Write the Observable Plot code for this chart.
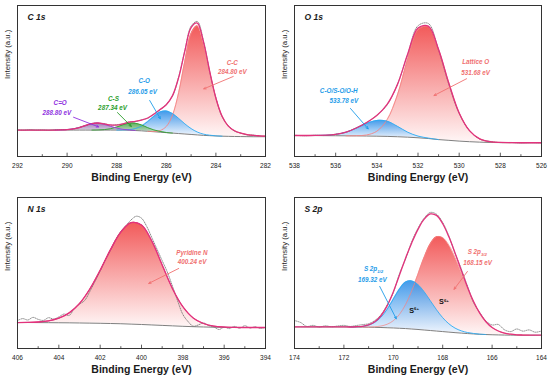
<!DOCTYPE html>
<html>
<head>
<meta charset="utf-8">
<script src="https://cdn.jsdelivr.net/npm/d3@7"></script>
<script src="https://cdn.jsdelivr.net/npm/@observablehq/plot@0.6"></script>
<style>
  body { margin: 0; background: #fff; }
  #root { position: relative; width: 550px; height: 385px; font-family: Arial, "Liberation Sans", Helvetica, sans-serif; }
  .panel { position: absolute; width: 275px; height: 192px; }
  .panel svg { display: block; }
</style>
</head>
<body>
<svg width="0" height="0" style="position:absolute">
  <defs>
    <linearGradient id="gRed" x1="0" y1="0" x2="0" y2="1">
      <stop offset="0" stop-color="#f25a5a"/><stop offset="1" stop-color="#fff6f6"/>
    </linearGradient>
    <linearGradient id="gBlue" x1="0" y1="0" x2="0" y2="1">
      <stop offset="0" stop-color="#2f8fe8"/><stop offset="1" stop-color="#f0f7ff"/>
    </linearGradient>
    <linearGradient id="gGreen" x1="0" y1="0" x2="0" y2="1">
      <stop offset="0" stop-color="#3f9c3f"/><stop offset="1" stop-color="#bfdfbf"/>
    </linearGradient>
    <linearGradient id="gPurple" x1="0" y1="0" x2="0" y2="1">
      <stop offset="0" stop-color="#8a62a8"/><stop offset="1" stop-color="#cfc0da"/>
    </linearGradient>
  </defs>
</svg>
<div id="root"></div>
<script>
// ---------------- C 1s ----------------
const c1sEnergy = [292, 291.75, 291.5, 291.25, 291, 290.75, 290.5, 290.25, 290, 289.75, 289.5, 289.25, 289, 288.75, 288.5, 288.25, 288, 287.75, 287.5, 287.25, 287, 286.75, 286.5, 286.25, 286, 285.75, 285.5, 285.25, 285, 284.75, 284.5, 284.25, 284, 283.75, 283.5, 283.25, 283, 282.75, 282.5, 282.25, 282];
const c1sBackground = [17.5, 17.5, 17.5, 17.5, 17.5, 17.5, 17.5, 17.5, 17.5, 17.5, 17.5, 17.5, 17.5, 17.5, 17.5, 17.5, 17.5, 17.5, 17.4, 17.2, 17.0, 16.7, 16.4, 16.1, 15.8, 15.5, 15.2, 14.9, 14.6, 14.3, 14.0, 13.8, 13.6, 13.45, 13.35, 13.25, 13.2, 13.15, 13.1, 13.1, 13.1];
const c1sCC = [0, 0, 0, 0, 0, 0, 0, 0, 0, 0, 0, 0, 0, 0, 0, 0, 0, 0, 0, 0, 0, 0, 0.2, 1.1, 4.1, 11.9, 27.2, 48.4, 66.9, 72.2, 61.1, 42.3, 24.9, 13.2, 6.8, 3.8, 2.2, 1.4, 0.9, 0.6, 0.4];
const c1sCO = [0, 0, 0, 0, 0, 0, 0, 0, 0, 0, 0, 0, 0, 0, 0, 0, 0, 0.1, 0.4, 1.3, 3.2, 6.4, 10.2, 13.4, 14.3, 12.9, 10.0, 6.7, 3.9, 1.9, 0.8, 0.3, 0.1, 0, 0, 0, 0, 0, 0, 0, 0];
const c1sCS = [0, 0, 0, 0, 0, 0, 0, 0, 0, 0, 0, 0, 0, 0.1, 0.3, 0.9, 2.0, 3.5, 4.7, 4.8, 3.9, 2.4, 1.2, 0.5, 0.1, 0, 0, 0, 0, 0, 0, 0, 0, 0, 0, 0, 0, 0, 0, 0, 0];
const c1sCdO = [0, 0, 0, 0, 0, 0, 0, 0.1, 0.3, 0.8, 1.7, 3.1, 4.2, 4.6, 3.8, 2.5, 1.3, 0.5, 0.2, 0, 0, 0, 0, 0, 0, 0, 0, 0, 0, 0, 0, 0, 0, 0, 0, 0, 0, 0, 0, 0, 0];
const c1sRaw = [17.7, 17.4, 17.8, 17.5, 17.6, 17.3, 17.7, 17.8, 17.9, 18.2, 19.4, 20.4, 21.9, 22.0, 21.8, 20.7, 21.1, 21.6, 22.9, 23.1, 24.3, 25.3, 28.2, 30.9, 34.6, 40.0, 52.8, 70.4, 86.3, 89.4, 76.6, 56.0, 38.9, 26.3, 20.4, 16.8, 15.6, 14.3, 14.2, 13.6, 13.4];
const c1sMajorTicks = [292, 290, 288, 286, 284, 282];
const c1sMinorTicks = [291, 289, 287, 285, 283];

// ---------------- O 1s ----------------
const o1sEnergy = [538, 537.5, 537, 536.5, 536, 535.5, 535, 534.5, 534, 533.5, 533, 532.5, 532, 531.5, 531, 530.5, 530, 529.5, 529, 528.5, 528, 527.5, 527, 526.5, 526];
const o1sBackground = [13.9, 13.9, 13.85, 13.8, 13.75, 13.7, 13.65, 13.55, 13.45, 13.3, 13.1, 12.8, 12.4, 11.9, 11.2, 10.7, 10.2, 9.8, 9.5, 9.3, 9.2, 9.15, 9.1, 9.1, 9.1];
const o1sLattice = [0, 0, 0, 0, 0, 0, 0.1, 0.7, 3.3, 11.1, 27.6, 51.8, 71.6, 74.1, 59.6, 37.8, 18.6, 7.3, 2.2, 0.5, 0.1, 0, 0, 0, 0];
const o1sCO = [0, 0, 0.1, 0.3, 0.9, 2.4, 5.1, 8.3, 10.4, 10.1, 6.9, 3.3, 1.1, 0.3, 0, 0, 0, 0, 0, 0, 0, 0, 0, 0, 0];
const o1sRaw = [14.1, 13.7, 14.1, 13.9, 14.8, 16.0, 19.0, 22.4, 27.4, 34.2, 47.9, 67.6, 86.6, 88.1, 70.4, 47.6, 28.5, 17.3, 11.5, 10.0, 9.2, 9.3, 9.0, 9.2, 9.0];
const o1sMajorTicks = [538, 536, 534, 532, 530, 528, 526];
const o1sMinorTicks = [537, 535, 533, 531, 529, 527];

// ---------------- N 1s ----------------
const n1sEnergy = [406, 405.5, 405, 404.5, 404, 403.5, 403, 402.5, 402, 401.5, 401, 400.5, 400, 399.5, 399, 398.5, 398, 397.5, 397, 396.5, 396, 395.5, 395, 394.5, 394];
const n1sBackground = [17.2, 17.2, 17.15, 17.1, 17.05, 17.0, 16.9, 16.8, 16.7, 16.55, 16.4, 16.15, 15.9, 15.6, 15.3, 15.0, 14.7, 14.45, 14.25, 14.1, 14.0, 13.95, 13.9, 13.9, 13.9];
const n1sPyridine = [0, 0.1, 0.4, 1.2, 3.0, 6.6, 12.9, 22.6, 35.1, 48.9, 60.7, 67.2, 65.9, 55.5, 40.0, 24.6, 13.0, 5.8, 2.3, 0.7, 0.2, 0, 0, 0, 0];
const n1sRawEnergy = [406, 405.75, 405.5, 405.25, 405, 404.75, 404.5, 404.25, 404, 403.75, 403.5, 403.25, 403, 402.75, 402.5, 402.25, 402, 401.75, 401.5, 401.25, 401, 400.75, 400.5, 400.25, 400, 399.75, 399.5, 399.25, 399, 398.75, 398.5, 398.25, 398, 397.75, 397.5, 397.25, 397, 396.75, 396.5, 396.25, 396, 395.75, 395.5, 395.25, 395, 394.75, 394.5, 394.25, 394];
const n1sRaw = [18.5, 19.8, 18.9, 20.6, 19.3, 18.6, 20.4, 19.5, 20.9, 22.8, 21.9, 26.5, 29.4, 31.8, 37.8, 44.5, 51.2, 58.6, 65.0, 71.9, 77.5, 81.4, 85.2, 87.6, 86.3, 80.9, 73.4, 65.8, 58.2, 50.6, 41.2, 31.5, 22.6, 17.9, 14.8, 15.6, 16.9, 15.2, 14.3, 12.6, 14.1, 13.2, 14.6, 13.4, 15.1, 13.6, 14.4, 13.3, 14.0];
const n1sMajorTicks = [406, 404, 402, 400, 398, 396, 394];
const n1sMinorTicks = [405, 403, 401, 399, 397, 395];

// ---------------- S 2p ----------------
const s2pEnergy = [174, 173.75, 173.5, 173.25, 173, 172.75, 172.5, 172.25, 172, 171.75, 171.5, 171.25, 171, 170.75, 170.5, 170.25, 170, 169.75, 169.5, 169.25, 169, 168.75, 168.5, 168.25, 168, 167.75, 167.5, 167.25, 167, 166.75, 166.5, 166.25, 166, 165.75, 165.5, 165.25, 165, 164.75, 164.5, 164.25, 164];
const s2pBackground = [14.3, 14.3, 14.3, 14.3, 14.3, 14.3, 14.3, 14.3, 14.3, 14.25, 14.2, 14.15, 14.1, 14.0, 13.9, 13.75, 13.6, 13.4, 13.2, 12.9, 12.6, 12.25, 11.9, 11.55, 11.2, 10.85, 10.5, 10.2, 9.9, 9.65, 9.4, 9.25, 9.1, 9.0, 8.9, 8.85, 8.8, 8.8, 8.8, 8.8, 8.8];
const s2p32 = [0, 0, 0, 0, 0, 0, 0, 0, 0, 0, 0, 0, 0.1, 0.4, 1.0, 2.3, 4.8, 9.2, 16.0, 25.4, 36.6, 48.1, 57.5, 62.5, 62.2, 57.6, 49.8, 40.2, 30.2, 21.2, 13.9, 8.5, 4.8, 2.6, 1.3, 0.6, 0.25, 0.1, 0, 0, 0];
const s2p12 = [0, 0, 0, 0, 0, 0, 0, 0, 0, 0, 0.2, 0.5, 1.4, 3.3, 6.8, 12.2, 19.1, 26.0, 30.8, 31.8, 29.7, 25.3, 19.7, 14.1, 9.2, 5.5, 3.0, 1.5, 0.7, 0.3, 0.1, 0, 0, 0, 0, 0, 0, 0, 0, 0, 0];
const s2pRaw = [18.5, 17.2, 14.6, 15.3, 14.2, 15.0, 14.4, 14.9, 15.3, 14.6, 15.2, 15.8, 16.4, 18.5, 22.3, 28.8, 37.0, 49.6, 59.4, 70.9, 79.6, 86.3, 90.1, 88.9, 83.4, 74.5, 63.0, 52.8, 41.5, 30.4, 23.8, 18.2, 15.6, 15.9, 12.4, 11.2, 12.9, 11.5, 12.3, 10.8, 11.6];
const s2pMajorTicks = [174, 172, 170, 168, 166, 164];
const s2pMinorTicks = [173, 171, 169, 167, 165];

// ---------------- styling ----------------
const FONT = "Arial, 'Liberation Sans', Helvetica, sans-serif";
const COL = {
  red: "#f07070", redStroke: "#f48484",
  blue: "#1e9ce9", blueStroke: "#2eaaf2",
  green: "#2a9d2a", greenStroke: "#2f9f2f",
  purple: "#8e2fe0", purpleStroke: "#9a3fd8",
  env: "#e2327c", bg: "#7f7f7f", raw: "#666666", ink: "#1a1a1a"
};
const curve = "catmull-rom";

function build(cfg) {
  const {energy, background} = cfg;
  const env = energy.map((E, i) => ({E, y: background[i] + cfg.components.reduce((s, c) => s + c.values[i], 0)}));
  const bgRows = energy.map((E, i) => ({E, y: background[i]}));
  const comps = cfg.components.map(c => {
    const all = energy.map((E, i) => ({E, y1: background[i], y2: background[i] + c.values[i], v: c.values[i]}));
    return all.filter((d, i) => d.v > 0 || (i > 0 && all[i - 1].v > 0) || (i < all.length - 1 && all[i + 1].v > 0));
  });
  const rawE = cfg.rawEnergy || energy;
  const rawRows = rawE.map((E, i) => ({E, y: cfg.raw[i]}));
  const marks = [];
  comps.forEach((rows, k) => {
    const c = cfg.components[k];
    marks.push(Plot.areaY(rows, {x: "E", y1: "y1", y2: "y2", fill: `url(#${c.gradient})`, fillOpacity: c.fillOpacity ?? 1, curve}));
  });
  marks.push(Plot.line(bgRows, {x: "E", y: "y", stroke: COL.bg, strokeWidth: 1, curve}));
  comps.forEach((rows, k) => {
    const c = cfg.components[k];
    marks.push(Plot.line(rows, {x: "E", y: "y2", stroke: c.stroke, strokeWidth: 0.9, strokeOpacity: c.strokeOpacity ?? 1, curve}));
  });
  marks.push(Plot.line(rawRows, {x: "E", y: "y", stroke: COL.raw, strokeWidth: 0.75, strokeDasharray: "0.7,1.2", curve}));
  marks.push(Plot.line(env, {x: "E", y: "y", stroke: COL.env, strokeWidth: 1.3, curve}));
  cfg.arrows.forEach(a => marks.push(Plot.arrow([a], {x1: "x1", y1: "y1", x2: "x2", y2: "y2", stroke: a.color, strokeWidth: 0.9, headLength: 4, headAngle: 50})));
  cfg.labels.forEach(l => marks.push(Plot.text([l], {x: "E", y: "I", text: d => d.text, fill: l.color, fontWeight: l.weight || "bold", fontStyle: l.style || "italic", fontSize: l.size || 6.3})));
  marks.push(Plot.ruleX(cfg.minorTicks, {x: d => d, y1: 0, y2: 1.2, stroke: "#333", strokeWidth: 0.8}));
  marks.push(Plot.ruleX(cfg.majorTicks, {x: d => d, y1: 0, y2: 2.2, stroke: "#333", strokeWidth: 0.8}));
  marks.push(Plot.axisX({ticks: cfg.majorTicks, tickSize: 0, tickPadding: 7, fill: "#222", label: null}));
  marks.push(Plot.frame({stroke: "#333", strokeWidth: 1}));
  marks.push(Plot.text([cfg.title], {text: d => d, frameAnchor: "top-left", dx: 10, dy: 8, textAnchor: "start", lineAnchor: "top", fontWeight: "bold", fontStyle: "italic", fontSize: 8.5, fill: COL.ink}));
  marks.push(Plot.text(["Intensity (a.u.)"], {text: d => d, frameAnchor: "left", rotate: -90, dx: -10, dy: -2, fontSize: 7.8, fill: "#222"}));
  marks.push(Plot.text(["Binding Energy (eV)"], {text: d => d, frameAnchor: "bottom", dy: 24, fontWeight: "bold", fontSize: 10.5, fill: COL.ink}));

  const svg = Plot.plot({
    width: 275, height: 192,
    marginLeft: cfg.marginLeft, marginRight: cfg.marginRight, marginTop: 5, marginBottom: 36,
    x: {domain: cfg.domain, label: null},
    y: {domain: [0, 100], axis: null},
    style: {fontFamily: FONT, fontSize: "6.5px", background: "transparent", overflow: "visible"},
    marks
  });
  // subscripts / superscripts in labels
  svg.querySelectorAll("text").forEach(t => {
    const s = t.textContent;
    const m = s.match(/^(.*?)([_^])\{(.+)\}$/);
    if (m) {
      t.textContent = m[1];
      const ts = document.createElementNS("http://www.w3.org/2000/svg", "tspan");
      ts.setAttribute("font-size", "4.3");
      ts.setAttribute("dy", m[2] === "_" ? "1.6" : "-2.8");
      ts.textContent = m[3];
      t.appendChild(ts);
    }
  });
  return svg;
}

const panels = [
  {
    left: 0, top: 0, marginLeft: 17, marginRight: 10, domain: [292, 282], title: "C 1s",
    energy: c1sEnergy, background: c1sBackground, raw: c1sRaw,
    majorTicks: c1sMajorTicks, minorTicks: c1sMinorTicks,
    components: [
      {values: c1sCC, gradient: "gRed", stroke: COL.redStroke},
      {values: c1sCO, gradient: "gBlue", stroke: COL.blueStroke, fillOpacity: 0.92},
      {values: c1sCS, gradient: "gGreen", stroke: COL.greenStroke, fillOpacity: 0.85},
      {values: c1sCdO, gradient: "gPurple", stroke: COL.purpleStroke, fillOpacity: 0.85}
    ],
    labels: [
      {text: "C-C", E: 283.34, I: 62.1, color: COL.red},
      {text: "284.80 eV", E: 283.34, I: 55.8, color: COL.red},
      {text: "C-O", E: 286.89, I: 49.7, color: COL.blue},
      {text: "286.05 eV", E: 286.96, I: 43.0, color: COL.blue},
      {text: "C-S", E: 288.13, I: 38.3, color: COL.green},
      {text: "287.34 eV", E: 288.17, I: 32.2, color: COL.green},
      {text: "C=O", E: 290.28, I: 35.7, color: COL.purple},
      {text: "288.80 eV", E: 290.41, I: 29.1, color: COL.purple}
    ],
    arrows: [
      {x1: 283.30, y1: 53.0, x2: 284.49, y2: 44.8, color: COL.red},
      {x1: 286.67, y1: 37.1, x2: 286.24, y2: 25.0, color: COL.blue},
      {x1: 287.97, y1: 29.1, x2: 287.41, y2: 19.9, color: COL.green},
      {x1: 289.74, y1: 26.0, x2: 288.73, y2: 19.6, color: COL.purple}
    ]
  },
  {
    left: 275, top: 0, marginLeft: 19, marginRight: 9, domain: [538, 526], title: "O 1s",
    energy: o1sEnergy, background: o1sBackground, raw: o1sRaw,
    majorTicks: o1sMajorTicks, minorTicks: o1sMinorTicks,
    components: [
      {values: o1sLattice, gradient: "gRed", stroke: COL.redStroke},
      {values: o1sCO, gradient: "gBlue", stroke: COL.blueStroke, fillOpacity: 0.9}
    ],
    labels: [
      {text: "Lattice O", E: 529.20, I: 62.3, color: COL.red},
      {text: "531.68 eV", E: 529.20, I: 55.6, color: COL.red},
      {text: "C-O/S-O/O-H", E: 535.85, I: 43.7, color: COL.blue},
      {text: "533.78 eV", E: 535.60, I: 37.1, color: COL.blue}
    ],
    arrows: [
      {x1: 529.64, y1: 51.5, x2: 531.22, y2: 40.4, color: COL.red},
      {x1: 535.28, y1: 31.8, x2: 534.42, y2: 18.3, color: COL.blue}
    ]
  },
  {
    left: 0, top: 192, marginLeft: 17, marginRight: 10, domain: [406, 394], title: "N 1s",
    energy: n1sEnergy, background: n1sBackground, raw: n1sRaw, rawEnergy: n1sRawEnergy,
    majorTicks: n1sMajorTicks, minorTicks: n1sMinorTicks,
    components: [
      {values: n1sPyridine, gradient: "gRed", stroke: COL.env}
    ],
    labels: [
      {text: "Pyridine N", E: 397.56, I: 63.5, color: COL.red},
      {text: "400.24 eV", E: 397.55, I: 57.3, color: COL.red}
    ],
    arrows: [
      {x1: 398.2, y1: 53.0, x2: 399.65, y2: 43.1, color: COL.red}
    ]
  },
  {
    left: 275, top: 192, marginLeft: 19, marginRight: 9, domain: [174, 164], title: "S 2p",
    energy: s2pEnergy, background: s2pBackground, raw: s2pRaw,
    majorTicks: s2pMajorTicks, minorTicks: s2pMinorTicks,
    components: [
      {values: s2p32, gradient: "gRed", stroke: COL.redStroke, strokeOpacity: 0.8},
      {values: s2p12, gradient: "gBlue", stroke: COL.blueStroke, fillOpacity: 0.9}
    ],
    labels: [
      {text: "S 2p_{3/2}", E: 166.6, I: 63.7, color: COL.red},
      {text: "168.15 eV", E: 166.59, I: 56.7, color: COL.red},
      {text: "S 2p_{1/2}", E: 170.8, I: 52.7, color: COL.blue},
      {text: "169.32 eV", E: 170.85, I: 45.7, color: COL.blue},
      {text: "S^{6+}", E: 169.16, I: 25.3, color: "#111", style: "normal", size: 7.2},
      {text: "S^{6+}", E: 167.95, I: 30.8, color: "#111", style: "normal", size: 7.2}
    ],
    arrows: [
      {x1: 167.0, y1: 51.0, x2: 167.54, y2: 39.2, color: COL.red},
      {x1: 170.55, y1: 41.1, x2: 169.88, y2: 19.7, color: COL.blue}
    ]
  }
];

const root = document.getElementById("root");
for (const p of panels) {
  const div = document.createElement("div");
  div.className = "panel";
  div.style.left = p.left + "px";
  div.style.top = p.top + "px";
  div.appendChild(build(p));
  root.appendChild(div);
}
</script>
</body>
</html>
